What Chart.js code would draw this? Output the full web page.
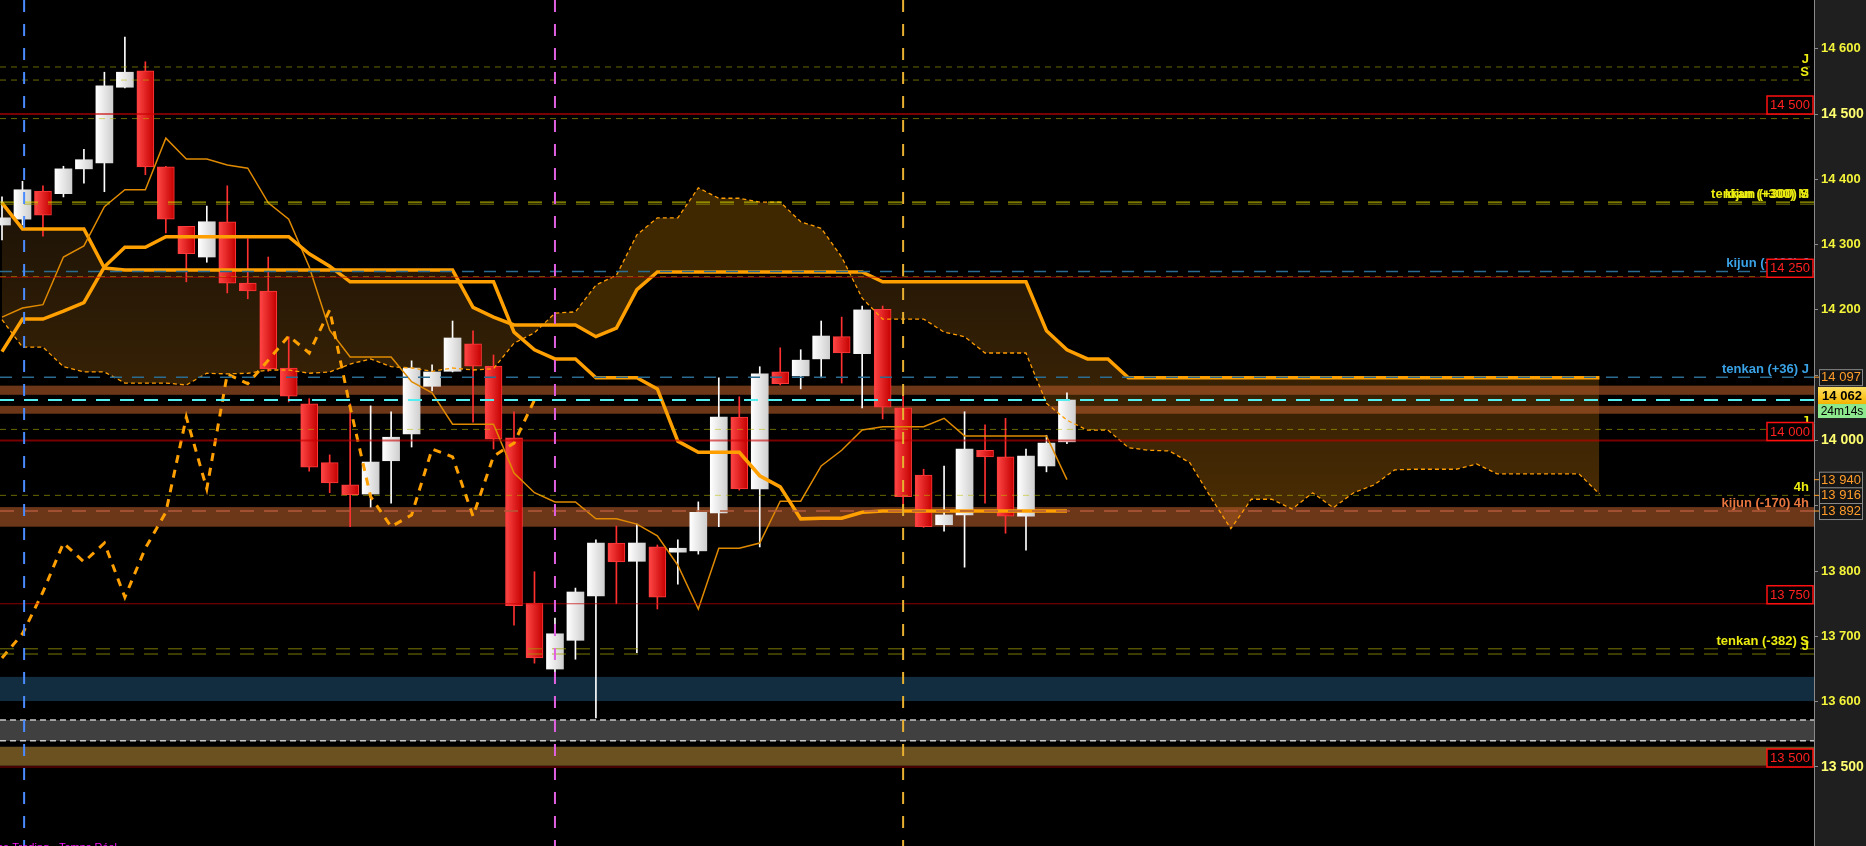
<!DOCTYPE html>
<html>
<head>
<meta charset="utf-8">
<title>Ichimoku 1h</title>
<script src="https://cdn.jsdelivr.net/npm/chart.js@4.4.1/dist/chart.umd.min.js"></script>
<style>
  html, body { margin: 0; padding: 0; background: #000; overflow: hidden; }
  canvas { display: block; background: #000; }
</style>
</head>
<body>
<canvas id="chart" width="1866" height="846"></canvas>
<script>
// candles, bar 0 = first bar on the left
const opens  = [14330, 14339, 14382, 14378, 14416, 14425, 14541, 14566, 14419, 14328,
                14281, 14335, 14241, 14229, 14111, 14056, 13966, 13932, 13918, 13969,
                14010, 14083, 14106, 14148, 14114, 14004, 13751, 13650, 13694, 13762,
                13843, 13815, 13837, 13829, 13831, 13889, 14036, 13926, 14105, 14099,
                14125, 14159, 14133, 14201, 14050, 13947, 13871, 13886, 13985, 13975,
                13884, 13961, 13998];
const highs  = [14373, 14397, 14390, 14420, 14446, 14564, 14618, 14580, 14420, 14328,
                14359, 14390, 14309, 14281, 14159, 14064, 13978, 14056, 14053, 14044,
                14122, 14116, 14183, 14168, 14131, 14044, 13799, 13728, 13774, 13848,
                13869, 13872, 13840, 13848, 13906, 14096, 14067, 14113, 14142, 14139,
                14183, 14189, 14206, 14206, 14070, 13956, 13961, 14044, 14024, 14034,
                13987, 14008, 14073];
const lows   = [14307, 14330, 14313, 14373, 14394, 14381, 14540, 14407, 14318, 14243,
                14273, 14226, 14217, 14106, 14059, 13953, 13920, 13868, 13898, 13904,
                13990, 14076, 14105, 14028, 13987, 13717, 13659, 13632, 13665, 13575,
                13750, 13675, 13742, 13780, 13826, 13868, 13924, 13837, 14085, 14079,
                14096, 14088, 14050, 14033, 13897, 13867, 13861, 13806, 13904, 13858,
                13832, 13952, 13995];
const closes = [14341, 14384, 14345, 14416, 14430, 14543, 14564, 14419, 14339, 14286,
                14335, 14241, 14229, 14110, 14068, 13959, 13935, 13917, 13967, 14005,
                14111, 14105, 14157, 14114, 14002, 13747, 13667, 13704, 13768, 13843,
                13814, 13843, 13760, 13835, 13890, 14036, 13926, 14102, 14087, 14123,
                14160, 14134, 14200, 14051, 13914, 13868, 13886, 13987, 13975, 13884,
                13976, 13996, 14062];

// ichimoku
const tenkan = [14189, 14203, 14208, 14281, 14298, 14358, 14384, 14384, 14463, 14431,
                14431, 14422, 14417, 14364, 14339, 14266, 14169, 14128, 14128, 14128,
                14090, 14073, 14025, 14025, 14025, 13950, 13920, 13906, 13906, 13880,
                13880, 13872, 13854, 13809, 13742, 13835, 13835, 13843, 13907, 13907,
                13961, 13985, 14016, 14021, 14021, 14021, 14034, 14007, 14007, 14007,
                14007, 14007, 13940];
const kijun  = [14136, 14186, 14186, 14198, 14211, 14266, 14296, 14296, 14312, 14312,
                14312, 14312, 14312, 14312, 14312, 14286, 14267, 14243, 14243, 14243,
                14243, 14243, 14243, 14243, 14243, 14166, 14139, 14125, 14125, 14096,
                14096, 14096, 14079, 13999, 13982, 13982, 13982, 13946, 13929, 13880,
                13881, 13881, 13890, 13892, 13892, 13892, 13892, 13892, 13892, 13892,
                13892, 13892, 13892];
// the two spans run 26 bars past the last candle
const senkouA = [14185, 14143, 14143, 14113, 14105, 14105, 14088, 14088, 14088, 14085,
                 14103, 14102, 14103, 14108, 14108, 14103, 14105, 14117, 14125, 14113,
                 14111, 14106, 14111, 14108, 14110, 14149, 14165, 14195, 14197, 14238,
                 14253, 14315, 14341, 14341, 14387, 14371, 14371, 14365, 14365, 14335,
                 14325, 14281, 14218, 14186, 14186, 14186, 14166, 14159, 14134, 14134,
                 14134, 14057, 14031, 14016, 14016, 13989, 13985, 13984, 13966, 13914,
                 13865, 13910, 13910, 13895, 13920, 13897, 13920, 13932, 13955, 13956,
                 13956, 13956, 13964, 13949, 13949, 13949, 13949, 13949, 13918];
const senkouB = [14364, 14324, 14324, 14324, 14324, 14264, 14261, 14261, 14261, 14261,
                 14261, 14261, 14261, 14261, 14261, 14261, 14261, 14261, 14261, 14261,
                 14261, 14261, 14261, 14204, 14189, 14177, 14177, 14177, 14177, 14159,
                 14172, 14231, 14258, 14258, 14258, 14258, 14258, 14258, 14258, 14258,
                 14258, 14258, 14258, 14243, 14243, 14243, 14243, 14243, 14243, 14243,
                 14243, 14168, 14139, 14125, 14125, 14096, 14096, 14096, 14096, 14096,
                 14096, 14096, 14096, 14096, 14096, 14096, 14096, 14096, 14096, 14096,
                 14096, 14096, 14096, 14096, 14096, 14096, 14096, 14096, 14096];
// lagging span, drawn 26 bars back
const chikou = [13667, 13704, 13768, 13843, 13814, 13843, 13760, 13835, 13890, 14036,
                13926, 14102, 14087, 14123, 14160, 14134, 14200, 14051, 13914, 13868,
                13886, 13987, 13975, 13884, 13976, 13996, 14062];

// price axis labels
const priceTicks = [13500, 13600, 13700, 13800, 13900, 14000, 14100, 14200, 14300, 14400, 14500, 14600];

// horizontal levels
const levelPrices = [14572, 14552, 14500, 14493, 14365, 14362, 14259, 14251, 14250, 14097,
                     14062, 14017, 14000, 13916, 13892, 13750, 13681, 13673, 13500];
const levelKinds  = ['olive', 'olive', 'red', 'olive', 'yellowLong', 'oliveLong', 'blue', 'olive', 'redThin', 'blue',
                     'cyan', 'olive', 'red', 'olive', 'salmon', 'redThin', 'oliveLong', 'oliveLong', 'redThin'];

// shaded zones
const zoneHigh  = [14084, 14053, 13898, 13638, 13572, 13531];
const zoneLow   = [14070, 14041, 13868, 13601, 13540, 13502];
const zoneKinds = ['brown', 'brown', 'brown', 'teal', 'grey', 'gold'];

// tags written above their level
const tagTexts  = ['J', 'S', 'tenkan (+300) M', 'kijun (+300) S', 'kijun (+188) J', 'tenkan (+36) J',
                   'J', '4h', 'kijun (-170) 4h', 'tenkan (-382) S', 'J'];
const tagPrices = [14572, 14552, 14365, 14365, 14259, 14097, 14017, 13916, 13892, 13681, 13673];
const tagKinds  = ['yellow', 'yellow', 'yellow', 'yellow', 'blue', 'blue',
                   'yellow', 'yellow', 'salmon', 'yellow', 'yellow'];

// round numbers boxed in red
const roundLevels = [14500, 14250, 14000, 13750, 13500];

// boxes on the price axis
const axisBoxPrices = [14097, 13940, 13916, 13892];
const lastPrice = 14062;
const countdown = '24m14s';

// vertical markers (bar index)
const markerBars = [1.08, 27, 44];

const FONT = '"Liberation Sans", Arial, sans-serif';
const fmt = v => String(Math.round(v)).replace(/\B(?=(\d{3})+(?!\d))/g, ' ');

const LEVEL_STYLE = {
  olive:      { color: 'rgba(190,190,0,0.55)', width: 1,   dash: [6, 5] },
  oliveLong:  { color: 'rgba(160,160,0,0.75)', width: 1,   dash: [14, 10] },
  yellowLong: { color: 'rgba(215,215,0,0.75)', width: 1.2, dash: [14, 10] },
  red:        { color: 'rgba(200,0,0,0.6)',    width: 2,   dash: [] },
  redThin:    { color: 'rgba(200,0,0,0.7)',    width: 1.2, dash: [] },
  blue:       { color: '#2a6c92',              width: 1.5, dash: [12, 10] },
  cyan:       { color: '#55eef0',              width: 2,   dash: [14, 10] },
  salmon:     { color: '#b35a3a',              width: 1.5, dash: [14, 10] }
};
const ZONE_STYLE = {
  brown: { fill: 'rgba(180,90,42,0.6)' },
  teal:  { fill: '#122d3f' },
  grey:  { fill: '#404040', edge: '#c8c8c8' },
  gold:  { fill: '#6b5020' }
};
const TAG_COLOR = { yellow: '#ecec10', blue: '#3aa2e6', salmon: '#e8763e' };
const MARKER_COLOR = ['#4a8cff', '#e060e0', '#e8b030'];

const canvas = document.getElementById('chart');
const c2d = canvas.getContext('2d');
const cloudBelow = c2d.createLinearGradient(0, 190, 0, 540);
cloudBelow.addColorStop(0, '#1a1107');
cloudBelow.addColorStop(1, '#4d2e03');

const up = i => closes[i] >= opens[i];

function bodyFill(ctx) {
  const i = ctx.dataIndex;
  const chart = ctx.chart;
  const solid = (i !== undefined && !up(i)) ? '#e82020' : '#f0f0f0';
  if (i === undefined || !chart.chartArea || !chart.scales || !chart.scales.x) return solid;
  const xc = chart.scales.x.getPixelForValue(i);
  if (!Number.isFinite(xc)) return solid;
  const g = chart.ctx.createLinearGradient(xc - 8.5, 0, xc + 8.5, 0);
  if (up(i)) { g.addColorStop(0, '#ffffff'); g.addColorStop(1, '#cfcfcf'); }
  else { g.addColorStop(0, '#ff4646'); g.addColorStop(1, '#c40000'); }
  return g;
}

const decor = {
  id: 'decor',
  beforeDraw(chart) {
    const { ctx, chartArea: a, width, height } = chart;
    ctx.save();
    ctx.fillStyle = '#1f1f1f';
    ctx.fillRect(a.right, 0, width - a.right, height);
    ctx.restore();
  },
  beforeDatasetDraw(chart, args) {
    if (args.index !== 0) return;
    const { ctx, chartArea: a } = chart;
    const y = chart.scales.y;
    ctx.save();
    zoneHigh.forEach((hi, k) => {
      const st = ZONE_STYLE[zoneKinds[k]];
      const y1 = y.getPixelForValue(hi), y2 = y.getPixelForValue(zoneLow[k]);
      ctx.fillStyle = st.fill;
      ctx.fillRect(a.left, y1, a.right - a.left, y2 - y1);
      if (st.edge) {
        ctx.strokeStyle = st.edge; ctx.lineWidth = 1.5; ctx.setLineDash([6, 4]);
        [y1, y2].forEach(yy => { ctx.beginPath(); ctx.moveTo(a.left, yy); ctx.lineTo(a.right, yy); ctx.stroke(); });
        ctx.setLineDash([]);
      }
    });
    ctx.restore();
  },
  afterDatasetsDraw(chart) {
    const { ctx, chartArea: a } = chart;
    const x = chart.scales.x, y = chart.scales.y;
    ctx.save();
    ctx.beginPath(); ctx.rect(a.left, a.top, a.right - a.left, a.bottom - a.top); ctx.clip();
    // levels
    levelPrices.forEach((p, k) => {
      const st = LEVEL_STYLE[levelKinds[k]];
      const yy = y.getPixelForValue(p);
      ctx.strokeStyle = st.color; ctx.lineWidth = st.width; ctx.setLineDash(st.dash);
      ctx.beginPath(); ctx.moveTo(a.left, yy); ctx.lineTo(a.right, yy); ctx.stroke();
    });
    // vertical markers
    markerBars.forEach((b, k) => {
      const xx = x.getPixelForValue(b);
      ctx.strokeStyle = MARKER_COLOR[k]; ctx.lineWidth = 2; ctx.setLineDash([12, 12]);
      ctx.beginPath(); ctx.moveTo(xx, a.top); ctx.lineTo(xx, a.bottom); ctx.stroke();
    });
    ctx.setLineDash([]);
    // tags
    ctx.font = 'bold 13px ' + FONT;
    ctx.textAlign = 'right'; ctx.textBaseline = 'alphabetic';
    tagTexts.forEach((t, k) => {
      ctx.fillStyle = TAG_COLOR[tagKinds[k]];
      ctx.fillText(t, a.right - 5, y.getPixelForValue(tagPrices[k]) - 4);
    });
    // red boxes
    ctx.font = '13px ' + FONT;
    ctx.textAlign = 'center'; ctx.textBaseline = 'middle';
    roundLevels.forEach(p => {
      const yy = y.getPixelForValue(p);
      ctx.fillStyle = '#000';
      ctx.fillRect(a.right - 47, yy - 18, 46, 18);
      ctx.strokeStyle = '#ff1010'; ctx.lineWidth = 1.5;
      ctx.strokeRect(a.right - 47, yy - 18, 46, 18);
      ctx.fillStyle = '#ff2020';
      ctx.fillText(fmt(p), a.right - 24, yy - 8.5);
    });
    ctx.restore();
  },
  afterDraw(chart) {
    const { ctx, chartArea: a } = chart;
    const y = chart.scales.y;
    ctx.save();
    ctx.textAlign = 'center'; ctx.textBaseline = 'middle';
    // orange boxes
    axisBoxPrices.forEach(p => {
      const yy = y.getPixelForValue(p);
      ctx.strokeStyle = '#ff9c2a'; ctx.lineWidth = 1;
      ctx.beginPath(); ctx.moveTo(a.right, yy); ctx.lineTo(a.right + 5, yy); ctx.stroke();
      ctx.fillStyle = '#151515';
      ctx.fillRect(a.right + 5.5, yy - 7.5, 43, 16);
      ctx.strokeStyle = '#8a8a8a';
      ctx.strokeRect(a.right + 5.5, yy - 7.5, 43, 16);
      ctx.fillStyle = '#ff9c2a';
      ctx.font = '13px ' + FONT;
      ctx.fillText(fmt(p), a.right + 27, yy + 0.5);
    });
    // last price + countdown
    const yl = y.getPixelForValue(lastPrice);
    const g = ctx.createLinearGradient(0, yl - 13, 0, yl + 4);
    g.addColorStop(0, '#ffe060'); g.addColorStop(1, '#f4b400');
    ctx.fillStyle = g;
    ctx.fillRect(a.right + 4, yl - 13, 48, 17);
    ctx.fillStyle = '#000';
    ctx.font = 'bold 13px ' + FONT;
    ctx.fillText(fmt(lastPrice), a.right + 28, yl - 4);
    ctx.fillStyle = '#8ee88e';
    ctx.fillRect(a.right + 4, yl + 4, 48, 14);
    ctx.fillStyle = '#000';
    ctx.font = '12px ' + FONT;
    ctx.fillText(countdown, a.right + 28, yl + 11.5);
    // platform caption, cut by the left and bottom edges
    ctx.font = '11px ' + FONT;
    ctx.textAlign = 'right'; ctx.textBaseline = 'alphabetic';
    ctx.fillStyle = '#ff10ff';
    ctx.fillText('ProRealTime Trading - Temps Réel', 117, 851);
    ctx.restore();
  }
};

const bars = opens.map((o, i) => i);

new Chart(canvas, {
  type: 'bar',
  data: {
    datasets: [
      {
        label: 'wick',
        data: bars.map(i => ({ x: i, y: [lows[i], highs[i]] })),
        backgroundColor: ctx => (ctx.dataIndex !== undefined && !up(ctx.dataIndex)) ? '#ff3030' : '#ffffff',
        barThickness: 1, grouped: false, order: 20
      },
      {
        label: 'body',
        data: bars.map(i => ({ x: i, y: [opens[i], closes[i]] })),
        backgroundColor: bodyFill,
        borderColor: ctx => (ctx.dataIndex !== undefined && !up(ctx.dataIndex)) ? '#ff3a3a' : '#e6e6e6',
        borderWidth: ctx => (ctx.dataIndex !== undefined && !up(ctx.dataIndex)) ? 1 : 0,
        borderSkipped: false, minBarLength: 2,
        barThickness: 17, grouped: false, order: 19
      },
      {
        type: 'line', label: 'senkou A',
        data: senkouA.map((v, i) => ({ x: i, y: v })),
        borderColor: '#ff9d00', borderWidth: 1.3, borderDash: [4, 3],
        pointRadius: 0, tension: 0, fill: false, order: 6
      },
      {
        type: 'line', label: 'senkou B',
        data: senkouB.map((v, i) => ({ x: i, y: v })),
        borderColor: '#ffa000', borderWidth: 3.5,
        pointRadius: 0, tension: 0, order: 5,
        fill: { target: 2, above: cloudBelow, below: '#3f2800' }
      },
      {
        type: 'line', label: 'tenkan',
        data: tenkan.map((v, i) => ({ x: i, y: v })),
        borderColor: '#e08a00', borderWidth: 1.5,
        pointRadius: 0, tension: 0, fill: false, order: 4
      },
      {
        type: 'line', label: 'kijun',
        data: kijun.map((v, i) => ({ x: i, y: v })),
        borderColor: '#ffa000', borderWidth: 3.5,
        pointRadius: 0, tension: 0, fill: false, order: 3
      },
      {
        type: 'line', label: 'chikou',
        data: chikou.map((v, i) => ({ x: i, y: v })),
        borderColor: '#ffa000', borderWidth: 3, borderDash: [8, 7],
        pointRadius: 0, tension: 0, fill: false, order: 2
      }
    ]
  },
  options: {
    responsive: false,
    animation: false,
    devicePixelRatio: 1,
    layout: { padding: 0, autoPadding: false },
    plugins: {
      legend: { display: false },
      tooltip: { enabled: false },
      filler: { drawTime: 'beforeDatasetsDraw' }
    },
    scales: {
      x: {
        type: 'linear', min: -0.0977, max: 88.477, offset: false,
        display: false, grid: { display: false }
      },
      y: {
        position: 'right', min: 13379, max: 14674.6,
        afterFit: s => { s.width = 52; s.paddingTop = 0; s.paddingBottom = 0; },
        afterBuildTicks: s => { s.ticks = priceTicks.map(v => ({ value: v })); },
        grid: { drawOnChartArea: false, tickLength: 4, color: '#8a8a8a' },
        border: { color: '#8a8a8a', width: 1 },
        ticks: {
          autoSkip: false, padding: 3,
          color: ctx => (ctx.tick && ctx.tick.value % 500 === 0) ? '#ffff70' : '#f4f43a',
          font: ctx => ({ family: FONT, weight: 'bold', size: (ctx.tick && ctx.tick.value % 500 === 0) ? 14 : 13 }),
          callback: v => fmt(v)
        }
      }
    }
  },
  plugins: [decor]
});
</script>
</body>
</html>
